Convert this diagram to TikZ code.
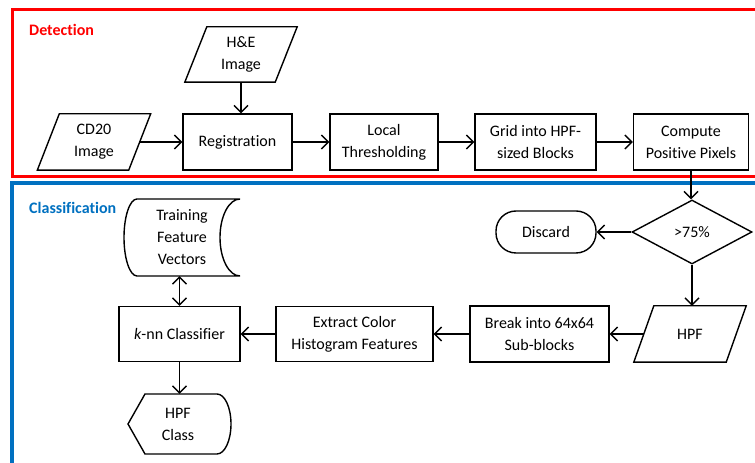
\documentclass[tikz,border=0pt]{standalone}
\usepackage{fontspec}
\setmainfont{Carlito}[Ligatures=NoCommon]
\usetikzlibrary{arrows.meta,shapes.geometric}
\definecolor{detred}{RGB}{255,0,0}
\definecolor{clsblue}{RGB}{0,112,192}
\tikzset{
  every node/.style={font=\fontsize{16}{22}\selectfont, align=center, inner sep=0pt},
  proc/.style={draw, line width=1.4pt, minimum height=56pt},
  datain/.style={minimum height=56pt},
  shapeline/.style={draw, line width=1.4pt, line join=miter},
  flow/.style={line width=1.4pt, -{Straight Barb[length=7pt,width=14pt,line width=1.4pt]}},
  flowboth/.style={line width=1.4pt, {Straight Barb[length=7pt,width=14pt,line width=1.4pt]}-{Straight Barb[length=7pt,width=14pt,line width=1.4pt]}},
  grouplabel/.style={anchor=west, font=\fontsize{16}{22}\selectfont\bfseries}
}
\begin{document}
\begin{tikzpicture}[x=1pt,y=1pt]
\clip (0,0) rectangle (755,463);
% group frames
\draw[detred, line width=3pt] (12,286) rectangle (800,453);
\draw[clsblue, line width=3.5pt] (12,-20) rectangle (800,280);
\node[grouplabel, text=detred] (lbldet) at (29,433) {Detection};
\node[grouplabel, text=clsblue] (lblcls) at (29,255) {Classification};

% Detection nodes
\node[datain, minimum width=90pt, minimum height=55pt] (hande) at (241,408.5) {H\&E\\Image};
\draw[shapeline] ([xshift=11pt]hande.north west) -- ([xshift=11pt]hande.north east) -- ([xshift=-11pt]hande.south east) -- ([xshift=-11pt]hande.south west) -- cycle;
\node[datain, minimum width=91pt] (cd20) at (94,321) {CD20\\Image};
\draw[shapeline] ([xshift=11pt]cd20.north west) -- ([xshift=11pt]cd20.north east) -- ([xshift=-11pt]cd20.south east) -- ([xshift=-11pt]cd20.south west) -- cycle;
\node[proc, minimum width=109pt] (reg) at (237.5,321) {Registration};
\node[proc, minimum width=108pt] (thr) at (384,321) {Local\\Thresholding};
\node[proc, minimum width=121pt] (grid) at (535.5,321) {Grid into HPF-\\sized Blocks};
\node[proc, minimum width=115pt] (comp) at (691,321) {Compute\\Positive Pixels};

% Classification nodes
\node[draw, diamond, line width=1.4pt, minimum width=120pt, minimum height=64pt] (dia) at (692,231) {>75\%};
\node[draw, line width=1.4pt, rounded corners=20pt, minimum width=100pt, minimum height=42pt] (discard) at (546,231) {Discard};
\node[datain, minimum width=92pt] (hpf) at (690,129) {HPF};
\draw[shapeline] ([xshift=10pt]hpf.north west) -- ([xshift=10pt]hpf.north east) -- ([xshift=-10pt]hpf.south east) -- ([xshift=-10pt]hpf.south west) -- cycle;
\node[proc, minimum width=139pt] (brk) at (539.5,129) {Break into 64x64\\Sub-blocks};
\node[proc, minimum width=157pt, minimum height=55pt] (ext) at (354.5,129) {Extract Color\\Histogram Features};
\node[proc, minimum width=121pt, minimum height=55pt] (knn) at (179.5,129) {\textit{k}-nn Classifier};
\node[minimum width=80pt, minimum height=77pt] (train) at (182,225.5) {Training\\Feature\\Vectors};
\draw[shapeline] (137,264) -- (240,264) arc[start angle=90, end angle=270, x radius=20, y radius=38.5] -- (137,187) arc[start angle=270, end angle=90, x radius=13, y radius=38.5] -- cycle;
\node[minimum width=60pt, minimum height=60pt] (hpfc) at (178,39) {HPF\\Class};
\draw[shapeline] (128,39) -- (145,69) -- (217,69) arc[start angle=90, end angle=-90, x radius=14, y radius=30] -- (145,9) -- cycle;

% connectors
\draw[flow] (hande.south) -- (hande.south |- reg.north);
\draw[flow] (cd20.east) -- (reg.west);
\draw[flow] (reg.east) -- (thr.west);
\draw[flow] (thr.east) -- (grid.west);
\draw[flow] (grid.east) -- (comp.west);
\draw[flow] (comp.south) -- (comp.south |- dia.north);
\draw[flow] (dia.west) -- (discard.east);
\draw[flow] (dia.south) -- (dia.south |- hpf.north);
\draw[flow] (hpf.west) -- (brk.east);
\draw[flow] (brk.west) -- (ext.east);
\draw[flow] (ext.west) -- (knn.east);
\draw[flowboth] (knn.north) -- (knn.north |- train.south);
\draw[flow] (knn.south) -- (knn.south |- hpfc.north);
\end{tikzpicture}
\end{document}
